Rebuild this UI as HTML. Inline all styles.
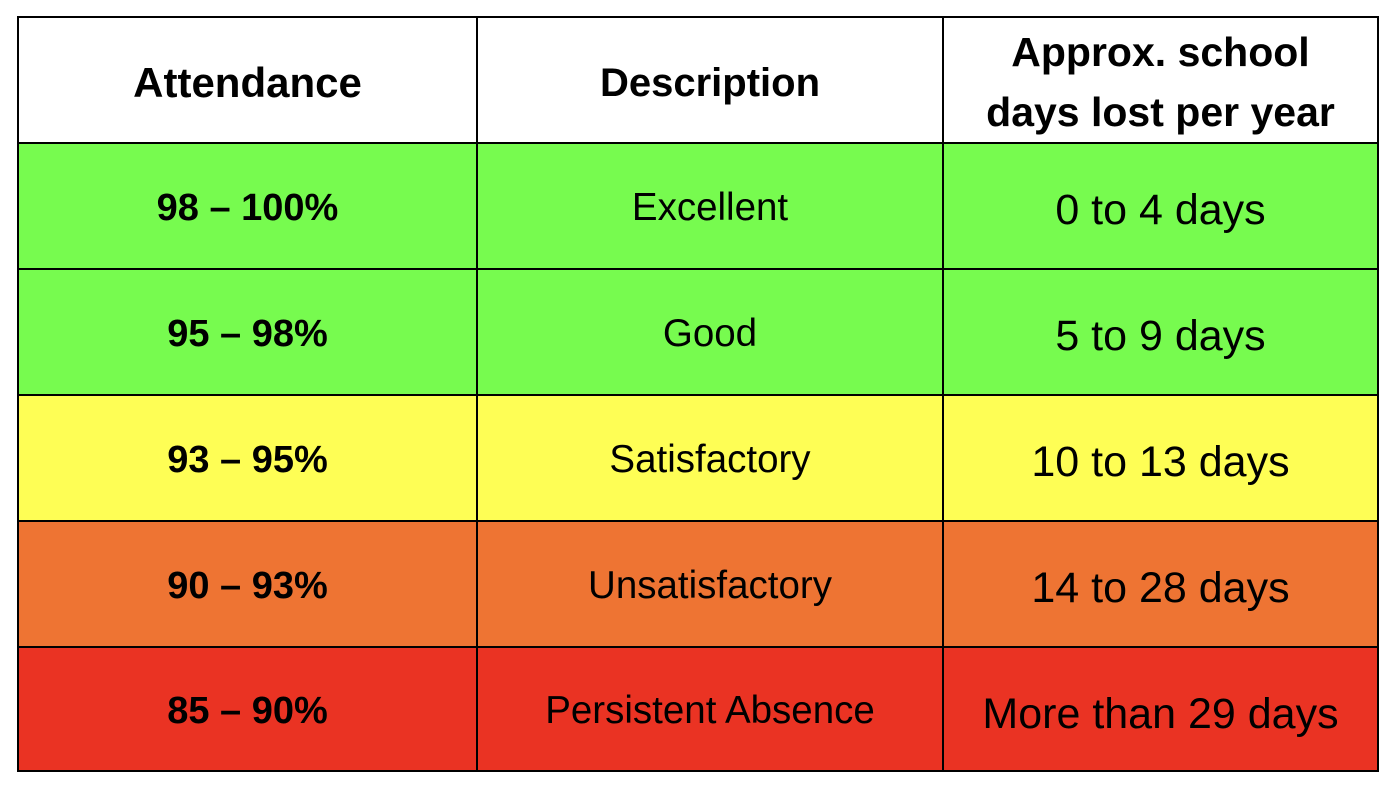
<!DOCTYPE html>
<html><head><meta charset="utf-8"><style>
body{margin:0;width:1398px;height:794px;background:#fff;position:relative;font-family:"Liberation Sans",sans-serif;overflow:hidden}
.c{position:absolute;display:flex;align-items:center;justify-content:center;text-align:center;color:#000;box-sizing:border-box;white-space:nowrap}
.h{position:absolute;background:#000}
</style></head><body>
<div class="c" style="left:18px;top:17px;width:1360px;height:126px;background:#fff"></div>
<div class="c" style="left:18px;top:143px;width:1360px;height:252px;background:#77fb4f"></div>
<div class="c" style="left:18px;top:395px;width:1360px;height:126px;background:#fefe55"></div>
<div class="c" style="left:18px;top:521px;width:1360px;height:126px;background:#ee7433"></div>
<div class="c" style="left:18px;top:647px;width:1360px;height:124px;background:#ea3323"></div>

<div class="h" style="left:17px;top:16px;width:1362px;height:2px"></div>
<div class="h" style="left:17px;top:142px;width:1362px;height:2px"></div>
<div class="h" style="left:17px;top:268px;width:1362px;height:2px"></div>
<div class="h" style="left:17px;top:394px;width:1362px;height:2px"></div>
<div class="h" style="left:17px;top:520px;width:1362px;height:2px"></div>
<div class="h" style="left:17px;top:646px;width:1362px;height:2px"></div>
<div class="h" style="left:17px;top:770px;width:1362px;height:2px"></div>
<div class="h" style="left:17px;top:16px;width:2px;height:756px"></div>
<div class="h" style="left:476px;top:16px;width:2px;height:756px"></div>
<div class="h" style="left:942px;top:16px;width:2px;height:756px"></div>
<div class="h" style="left:1377px;top:16px;width:2px;height:756px"></div>

<div class="c" style="left:18px;top:20px;width:459px;height:126px;font-weight:bold;font-size:42px">Attendance</div>
<div class="c" style="left:477px;top:20px;width:466px;height:126px;font-weight:bold;font-size:40px">Description</div>
<div class="c" style="left:943px;top:19px;width:435px;height:126px;font-weight:bold;font-size:41px;line-height:60px">Approx. school<br>days lost per year</div>

<div class="c" style="left:18px;top:145px;width:459px;height:126px;font-weight:bold;font-size:38px">98 – 100%</div>
<div class="c" style="left:477px;top:145px;width:466px;height:126px;font-size:38.5px">Excellent</div>
<div class="c" style="left:943px;top:145px;width:435px;height:130px;font-size:43px">0 to 4 days</div>

<div class="c" style="left:18px;top:271px;width:459px;height:126px;font-weight:bold;font-size:38px">95 – 98%</div>
<div class="c" style="left:477px;top:271px;width:466px;height:126px;font-size:38.5px">Good</div>
<div class="c" style="left:943px;top:271px;width:435px;height:130px;font-size:43px">5 to 9 days</div>

<div class="c" style="left:18px;top:397px;width:459px;height:126px;font-weight:bold;font-size:38px">93 – 95%</div>
<div class="c" style="left:477px;top:397px;width:466px;height:126px;font-size:38.5px">Satisfactory</div>
<div class="c" style="left:943px;top:397px;width:435px;height:130px;font-size:43px">10 to 13 days</div>

<div class="c" style="left:18px;top:523px;width:459px;height:126px;font-weight:bold;font-size:38px">90 – 93%</div>
<div class="c" style="left:477px;top:523px;width:466px;height:126px;font-size:38.5px">Unsatisfactory</div>
<div class="c" style="left:943px;top:523px;width:435px;height:130px;font-size:43px">14 to 28 days</div>

<div class="c" style="left:18px;top:649px;width:459px;height:124px;font-weight:bold;font-size:38px">85 – 90%</div>
<div class="c" style="left:477px;top:649px;width:466px;height:124px;font-size:38.5px">Persistent Absence</div>
<div class="c" style="left:943px;top:649px;width:435px;height:130px;font-size:43px">More than 29 days</div>
</body></html>
